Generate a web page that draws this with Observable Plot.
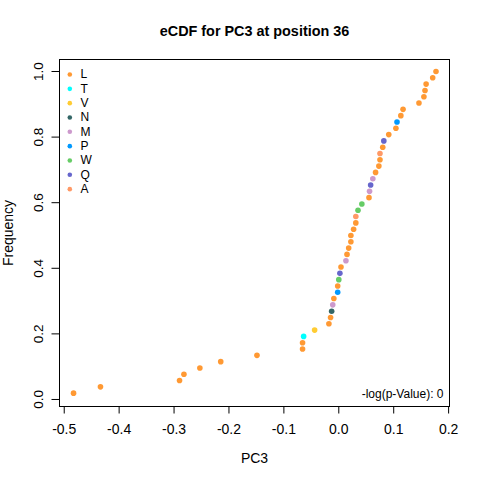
<!DOCTYPE html>
<html>
<head>
<meta charset="utf-8">
<script src="https://cdn.jsdelivr.net/npm/d3@7"></script>
<script src="https://cdn.jsdelivr.net/npm/@observablehq/plot@0.6"></script>
<style>
  html, body { margin: 0; padding: 0; background: #fff; }
</style>
</head>
<body>
<div id="chart"></div>
<script>
// Data (sorted PC3 values and residue at each point)
const pc3 = [-0.483, -0.434, -0.290, -0.282, -0.253, -0.215, -0.149, -0.066, -0.066, -0.064,
             -0.044, -0.018, -0.015, -0.013, -0.011, -0.009, -0.002, -0.002, 0.000, 0.002,
             0.004, 0.013, 0.015, 0.018, 0.022, 0.022, 0.027, 0.031, 0.031, 0.035,
             0.042, 0.055, 0.056, 0.058, 0.062, 0.067, 0.073, 0.075, 0.075, 0.080,
             0.082, 0.091, 0.104, 0.106, 0.113, 0.117, 0.146, 0.155, 0.157, 0.159,
             0.171, 0.177];
const residue = ["L","L","L","L","L","L","L","L","L","T",
                 "V","L","L","N","M","L","P","L","W","Q",
                 "L","M","L","L","L","L","L","L","A","W",
                 "W","L","M","Q","M","L","L","L","A","L",
                 "Q","L","L","P","L","L","L","L","L","L",
                 "L","L"];
const legendLabels = ["L","T","V","N","M","P","W","Q","A"];
const legendColors = ["#FF9933","#00FFFF","#FFCC33","#336666","#CC99CC","#0099FF","#66CC66","#6666CC","#FF9966"];
const xTicks = [-0.5, -0.4, -0.3, -0.2, -0.1, 0.0, 0.1, 0.2];
const yTicks = [0, 0.2, 0.4, 0.6, 0.8, 1.0];
const titleText = "eCDF for PC3 at position 36";
const xLabel = "PC3";
const yLabel = "Frequency";
const noteText = "-log(p-Value): 0";

const n = pc3.length;
const points = pc3.map((v, i) => ({x: v, y: (i + 1) / n, aa: residue[i]}));

const font = "'Liberation Sans', Arial, sans-serif";
const mT = 59, mL = 59;

const legendMarks = legendLabels.flatMap((aa, i) => [
  Plot.dot([aa], {frameAnchor: "top-left", dx: 10.3, dy: 15 + i * 14.33, r: 2.3, fill: d => d, stroke: "none"}),
  Plot.text([aa], {frameAnchor: "top-left", dx: 21, dy: 15 + i * 14.33, text: d => d, textAnchor: "start", lineAnchor: "middle", fontSize: 12, fill: "#000"})
]);

const chart = Plot.plot({
  width: 480,
  height: 480,
  marginTop: mT,
  marginLeft: mL,
  marginRight: 31,
  marginBottom: 74,
  style: {fontFamily: font, fontSize: "14px", background: "#fff", color: "#000"},
  x: {domain: [-0.5086, 0.2016], axis: null},
  y: {domain: [-0.0214, 1.0366], axis: null},
  color: {domain: legendLabels, range: legendColors},
  marks: [
    Plot.frame({stroke: "#000", strokeWidth: 1}),
    Plot.axisX({ticks: xTicks, tickSize: 7.5, tickPadding: 9.9, tickFormat: d => d.toFixed(1), label: null, fontSize: 14, anchor: "bottom"}),
    Plot.axisY({ticks: yTicks, tickSize: 7.5, tickFormat: () => "", label: null, anchor: "left"}),
    Plot.text(yTicks, {y: d => d, text: d => d.toFixed(1), frameAnchor: "left", dx: -21, rotate: -90, textAnchor: "middle", lineAnchor: "middle", fontSize: 13.5, fill: "#000"}),
    Plot.dot(points, {x: "x", y: "y", fill: "aa", r: 2.8, stroke: "none"}),
    ...legendMarks,
    Plot.text([noteText], {text: d => d, frameAnchor: "bottom-right", dx: -6, dy: -12, textAnchor: "end", lineAnchor: "middle", fontSize: 12, fill: "#000"}),
    Plot.text([titleText], {text: d => d, frameAnchor: "top", dy: 31 - mT, textAnchor: "middle", lineAnchor: "middle", fontSize: 14.4, fontWeight: "bold", fill: "#000"}),
    Plot.text([xLabel], {text: d => d, frameAnchor: "bottom", dy: 52, textAnchor: "middle", lineAnchor: "middle", fontSize: 14, fill: "#000"}),
    Plot.text([yLabel], {text: d => d, frameAnchor: "left", dx: -50.5, rotate: -90, textAnchor: "middle", lineAnchor: "middle", fontSize: 14, fill: "#000"})
  ]
});
document.getElementById("chart").appendChild(chart);
</script>
</body>
</html>
